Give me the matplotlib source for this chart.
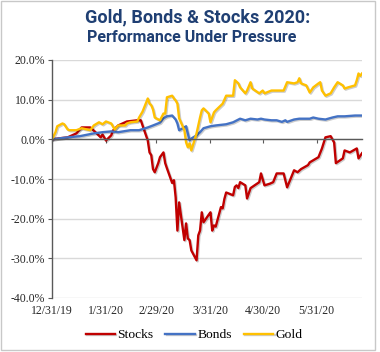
import matplotlib
matplotlib.use("Agg")
import matplotlib.pyplot as plt
import matplotlib.ticker as mticker
import matplotlib.patheffects as pe
from matplotlib.patches import Rectangle
import pandas as pd

# cumulative % change since 12/31/19
stock_dates = ["2019-12-31", "2020-01-05", "2020-01-09", "2020-01-14", "2020-01-17", "2020-01-22",
               "2020-01-24", "2020-01-28", "2020-01-29", "2020-01-31", "2020-02-03", "2020-02-04",
               "2020-02-07", "2020-02-12", "2020-02-18", "2020-02-20", "2020-02-21", "2020-02-24",
               "2020-02-25", "2020-02-26", "2020-02-27", "2020-02-28", "2020-03-01", "2020-03-02",
               "2020-03-04", "2020-03-05", "2020-03-06", "2020-03-09", "2020-03-10", "2020-03-11",
               "2020-03-12", "2020-03-13", "2020-03-16", "2020-03-17", "2020-03-18", "2020-03-19",
               "2020-03-20", "2020-03-23", "2020-03-24", "2020-03-25", "2020-03-26", "2020-03-27",
               "2020-03-30", "2020-03-31", "2020-04-01", "2020-04-02", "2020-04-03", "2020-04-06",
               "2020-04-07", "2020-04-08", "2020-04-09", "2020-04-13", "2020-04-14", "2020-04-15",
               "2020-04-16", "2020-04-17", "2020-04-20", "2020-04-21", "2020-04-23", "2020-04-24",
               "2020-04-28", "2020-04-29", "2020-05-01", "2020-05-04", "2020-05-06", "2020-05-08",
               "2020-05-12", "2020-05-14", "2020-05-18", "2020-05-20", "2020-05-22", "2020-05-26",
               "2020-05-27", "2020-06-01", "2020-06-03", "2020-06-05", "2020-06-08", "2020-06-10",
               "2020-06-11", "2020-06-15", "2020-06-16", "2020-06-19", "2020-06-23", "2020-06-24",
               "2020-06-26"]
stock_vals = [0.0, 0.3, 0.5, 1.5, 3.0, 3.0,
              2.2, 0.5, 1.2, -0.3, 1.0, 2.2,
              3.5, 4.5, 4.8, 4.8, 3.5, -0.3,
              -3.3, -4.0, -7.5, -8.3, -6.0, -4.5,
              -3.3, -6.0, -7.3, -11.0, -10.3, -14.6,
              -23.0, -15.9, -25.4, -21.2, -25.0, -25.4,
              -28.0, -30.5, -24.2, -23.0, -18.4, -20.9,
              -19.0, -18.4, -23.0, -21.7, -22.0, -17.1,
              -17.4, -15.0, -13.4, -14.1, -12.0, -11.6,
              -12.3, -10.8, -11.6, -14.9, -12.3, -12.0,
              -10.8, -8.6, -11.6, -11.2, -10.8, -8.6,
              -8.6, -12.1, -7.8, -8.3, -7.5, -6.5,
              -5.8, -4.5, -2.3, 0.5, 0.8, -0.8,
              -6.0, -4.8, -2.8, -3.3, -2.3, -4.8,
              -3.5]

bond_dates = ["2019-12-31", "2020-01-09", "2020-01-16", "2020-01-24", "2020-01-29", "2020-02-03",
              "2020-02-07", "2020-02-14", "2020-02-19", "2020-02-24", "2020-02-27", "2020-03-02",
              "2020-03-04", "2020-03-06", "2020-03-09", "2020-03-11", "2020-03-12", "2020-03-13",
              "2020-03-16", "2020-03-17", "2020-03-18", "2020-03-19", "2020-03-20", "2020-03-23",
              "2020-03-25", "2020-03-27", "2020-03-31", "2020-04-03", "2020-04-09", "2020-04-13",
              "2020-04-17", "2020-04-20", "2020-04-23", "2020-04-27", "2020-04-29", "2020-05-01",
              "2020-05-05", "2020-05-08", "2020-05-11", "2020-05-13", "2020-05-14", "2020-05-18",
              "2020-05-21", "2020-05-27", "2020-05-29", "2020-06-01", "2020-06-05", "2020-06-09",
              "2020-06-12", "2020-06-16", "2020-06-22", "2020-06-26"]
bond_vals = [0.0, 0.5, 0.8, 1.5, 1.8, 2.0,
             1.8, 2.3, 2.3, 3.0, 3.5, 4.2,
             5.3, 5.8, 6.0, 5.0, 4.0, 2.3,
             3.0, 3.3, 1.5, -0.3, 0.2, 1.0,
             1.8, 2.8, 3.3, 3.5, 3.8, 4.3,
             5.2, 4.8, 5.2, 5.0, 5.2, 5.0,
             4.8, 4.8, 4.4, 4.8, 4.4, 5.0,
             5.2, 5.2, 5.5, 5.2, 5.0, 5.5,
             5.8, 5.8, 6.0, 6.0]

gold_dates = ["2019-12-31", "2020-01-02", "2020-01-03", "2020-01-06", "2020-01-07", "2020-01-09",
              "2020-01-10", "2020-01-14", "2020-01-17", "2020-01-22", "2020-01-24", "2020-01-27",
              "2020-01-29", "2020-01-31", "2020-02-03", "2020-02-05", "2020-02-07", "2020-02-11",
              "2020-02-12", "2020-02-14", "2020-02-18", "2020-02-19", "2020-02-21", "2020-02-24",
              "2020-02-25", "2020-02-26", "2020-02-27", "2020-02-28", "2020-03-02", "2020-03-04",
              "2020-03-05", "2020-03-06", "2020-03-09", "2020-03-10", "2020-03-11", "2020-03-12",
              "2020-03-13", "2020-03-16", "2020-03-17", "2020-03-18", "2020-03-19", "2020-03-20",
              "2020-03-23", "2020-03-24", "2020-03-25", "2020-03-26", "2020-03-27", "2020-03-30",
              "2020-03-31", "2020-04-02", "2020-04-03", "2020-04-07", "2020-04-09", "2020-04-13",
              "2020-04-14", "2020-04-16", "2020-04-17", "2020-04-20", "2020-04-21", "2020-04-23",
              "2020-04-24", "2020-04-28", "2020-04-30", "2020-05-01", "2020-05-05", "2020-05-08",
              "2020-05-12", "2020-05-14", "2020-05-18", "2020-05-20", "2020-05-21", "2020-05-22",
              "2020-05-25", "2020-05-27", "2020-05-29", "2020-06-01", "2020-06-02", "2020-06-03",
              "2020-06-05", "2020-06-08", "2020-06-10", "2020-06-12", "2020-06-15", "2020-06-16",
              "2020-06-18", "2020-06-22", "2020-06-23", "2020-06-24", "2020-06-25", "2020-06-26"]
gold_vals = [0.0, 1.8, 3.3, 4.0, 3.8, 2.5,
             2.3, 2.3, 2.8, 2.3, 3.5, 4.3,
             3.8, 4.5, 4.0, 2.5, 3.5, 3.5,
             4.0, 4.3, 4.5, 5.5, 7.0, 10.3,
             9.0, 8.6, 7.5, 5.5, 4.8, 6.5,
             6.5, 10.6, 11.0, 10.3, 9.8, 9.0,
             5.3, 2.3, -0.8, -2.0, -1.0, -2.8,
             1.5, 3.5, 5.5, 7.3, 7.8, 6.5,
             4.3, 6.8, 7.3, 9.0, 11.0, 11.0,
             14.9, 14.1, 13.1, 11.6, 12.3, 14.4,
             12.8, 11.6, 12.3, 11.6, 12.3, 12.3,
             12.3, 14.4, 14.1, 14.4, 15.4, 14.1,
             13.6, 11.8, 13.1, 14.1, 14.4, 12.3,
             11.0, 11.6, 13.1, 14.4, 13.6, 12.8,
             13.1, 13.6, 14.9, 16.6, 16.0, 16.6]

tick_dates = ["2019-12-31", "2020-01-31", "2020-02-29", "2020-03-31", "2020-04-30", "2020-05-31"]
tick_labels = ["12/31/19", "1/31/20", "2/29/20", "3/31/20", "4/30/20", "5/31/20"]

RED = "#C00000"
BLUE = "#4472C4"
GOLD = "#FFC000"
NAVY = "#1F3F73"
AXIS = "#595959"
GRID = "#D9D9D9"

plt.rcParams["font.family"] = ["Liberation Serif", "DejaVu Serif"]

W, H = 380, 352
fig = plt.figure(figsize=(W / 100, H / 100), dpi=100)
ax = fig.add_axes([52 / W, 1 - 298 / H, 310 / W, 238 / H])

shadow = [pe.SimpleLineShadow(offset=(0.8, -0.8), alpha=0.2, shadow_color="black"), pe.Normal()]
series = [("Stocks", stock_dates, stock_vals, RED),
          ("Bonds", bond_dates, bond_vals, BLUE),
          ("Gold", gold_dates, gold_vals, GOLD)]
for name, d, v, c in series:
    ax.plot(pd.to_datetime(d), v, color=c, lw=1.7, label=name, path_effects=shadow,
            solid_joinstyle="round")

ax.set_xlim(pd.Timestamp("2019-12-31"), pd.Timestamp("2020-06-26"))
ax.set_ylim(-40, 20)
ax.set_yticks(range(-40, 21, 10))
ax.yaxis.set_major_formatter(mticker.FuncFormatter(lambda y, _: f"{y:.1f}%"))
ax.grid(axis="y", color=GRID, lw=1)
ax.set_axisbelow(True)

for s in ["top", "right"]:
    ax.spines[s].set_visible(False)
ax.spines["left"].set_color(AXIS)
ax.spines["left"].set_linewidth(1.0)
ax.spines["bottom"].set_position(("data", 0))
ax.spines["bottom"].set_color(AXIS)
ax.spines["bottom"].set_linewidth(1.0)

ax.set_xticks(pd.to_datetime(tick_dates))
ax.tick_params(axis="x", labelbottom=False, length=3, color=AXIS, direction="out")
ax.tick_params(axis="y", length=3, color=AXIS, labelsize=8.5, pad=2, labelcolor="#262626")

sec = ax.secondary_xaxis("bottom")
sec.set_xticks(pd.to_datetime(tick_dates), labels=tick_labels)
sec.tick_params(length=0, pad=5, labelsize=8.5, labelcolor="#262626")
sec.spines["bottom"].set_visible(False)

fig.legend(loc="center", bbox_to_anchor=(194 / W, 1 - 335 / H), ncol=3, frameon=False,
           fontsize=9.7, handlelength=2.2, handletextpad=0.15, columnspacing=0.9)

fig.text(198 / W, 1 - 17 / H, "Gold, Bonds & Stocks 2020:", ha="center", va="center",
         family="Roboto", fontweight="bold", fontsize=13, color=NAVY)
fig.text(191.5 / W, 1 - 37 / H, "Performance Under Pressure", ha="center", va="center",
         family="Roboto", fontweight="bold", fontsize=11.5, color=NAVY)

fig.patches.append(Rectangle((1 / W, 1 - 350 / H), 374 / W, 349 / H, transform=fig.transFigure,
                             fill=False, edgecolor="#C8C8C8", lw=1))

fig.savefig("out.png", dpi=100)
